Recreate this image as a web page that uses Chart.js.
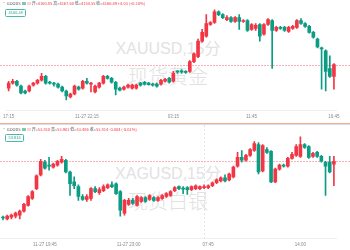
<!DOCTYPE html>
<html>
<head>
<meta charset="utf-8">
<script src="https://cdn.jsdelivr.net/npm/chart.js@4.4.1/dist/chart.umd.min.js"></script>
<style>
  html, body { margin: 0; padding: 0; background: #fff; width: 350px; height: 250px; overflow: hidden; font-family: 'Liberation Sans', 'Noto Sans CJK SC', sans-serif; }
  .wm { position: absolute; left: 0; width: 336px; text-align: center; color: #e2e2e2; white-space: nowrap; }
  .wm.en { font-size: 16px; line-height: 16px; }
  .wm.cn { font-size: 20px; line-height: 20px; font-family: 'Noto Sans CJK SC', sans-serif; font-weight: 300; }
  canvas { position: absolute; left: 0; }
  .hdr { position: absolute; left: 2px; font-size: 4px; line-height: 5px; color: #555; white-space: nowrap; font-family: 'Noto Sans CJK SC', sans-serif; }
  .hdr .v { color: #f23645; }
  .hdr .ic { display: inline-block; width: 4px; height: 3px; vertical-align: middle; margin-right: 1px; }
  .box { position: absolute; left: 5px; border: 0.7px solid #4fb8a5; border-radius: 1.5px; color: #26a69a; font-size: 4px; line-height: 6px; padding: 0 2.5px; }
  .sep { position: absolute; left: 0; width: 350px; height: 1px; }
</style>
</head>
<body>
<div class="wm en" style="top:41px">XAUUSD,15分</div>
<div class="wm cn" style="top:66px">现货黄金</div>
<div class="wm en" style="top:166px">XAGUSD,15分</div>
<div class="wm cn" style="top:191px">现货白银</div>

<canvas id="topChart" width="350" height="122" style="top:0"></canvas>
<canvas id="botChart" width="350" height="125" style="top:125px"></canvas>

<div class="sep" style="top:123px;background:#f4b08a"></div>
<div class="sep" style="top:124px;background:#d5dcee"></div>

<div class="hdr" style="top:1px">• GOODS <span class="ic" style="background:#7cc7b6"></span><span class="ic" style="background:#f9d3d6"></span>开=<span class="v">4160.85</span> 高=<span class="v">4167.60</span> 低=<span class="v">4154.55</span> 收=<span class="v">4166.49 +4.03 (+0.10%)</span></div>
<div class="box" style="top:9px">4166.49</div>
<div class="hdr" style="top:127px">• GOODS <span class="ic" style="background:#7cc7b6"></span><span class="ic" style="background:#f9d3d6"></span>开=<span class="v">53.810</span> 高=<span class="v">53.903</span> 低=<span class="v">53.486</span> 收=<span class="v">53.814 -0.004 (-0.01%)</span></div>
<div class="box" style="top:134px">53.816</div>

<script>
// XAUUSD 15 min candles
const topOpen = [4142.5,4147.5,4149.5,4144.5,4139.5,4139.5,4145.5,4147.5,4150.5,4154.5,
  4148.5,4147.5,4146.5,4143.5,4139.5,4133.5,4136.5,4143.5,4142.5,4149.5,
  4146.5,4138.5,4143.5,4147.5,4154.5,4152.5,4148.5,4142.5,4141.5,4143.5,
  4142.5,4142.5,4147.5,4148.5,4147.5,4146.5,4146.5,4146.5,4149.5,4152.5,
  4149.5,4159.5,4159.5,4159.5,4159.5,4169.5,4174.5,4190.5,4195.5,4207.5,
  4209.5,4220.5,4217.5,4212.5,4214.5,4210.5,4214.5,4210.5,4211.5,4202.5,
  4203.5,4207.5,4197.5,4207.5,4211.5,4201.5,4204.5,4204.5,4200.5,4203.5,
  4204.5,4211.5,4208.5,4205.5,4199.5,4192.5,4183.5,4180.5,4162.5,4154.5];
const topHigh = [4149.5,4151.5,4150.5,4145.5,4140.5,4145.5,4148.5,4151.5,4157.5,4155.5,
  4149.5,4148.5,4147.5,4144.5,4140.5,4137.5,4145.5,4144.5,4150.5,4152.5,
  4148.5,4145.5,4148.5,4155.5,4155.5,4153.5,4149.5,4143.5,4144.5,4146.5,
  4146.5,4146.5,4148.5,4149.5,4148.5,4147.5,4147.5,4151.5,4152.5,4153.5,
  4159.5,4160.5,4161.5,4160.5,4170.5,4178.5,4192.5,4202.5,4217.5,4210.5,
  4222.5,4221.5,4218.5,4216.5,4215.5,4215.5,4217.5,4212.5,4212.5,4208.5,
  4208.5,4208.5,4208.5,4213.5,4212.5,4205.5,4205.5,4205.5,4205.5,4206.5,
  4212.5,4213.5,4209.5,4206.5,4200.5,4193.5,4184.5,4181.5,4175.5,4167.5];
const topLow = [4139.5,4146.5,4144.5,4136.5,4136.5,4138.5,4144.5,4146.5,4149.5,4146.5,
  4146.5,4144.5,4142.5,4138.5,4130.5,4132.5,4135.5,4140.5,4141.5,4146.5,
  4138.5,4137.5,4142.5,4146.5,4151.5,4147.5,4135.5,4139.5,4140.5,4142.5,
  4141.5,4141.5,4144.5,4145.5,4145.5,4144.5,4143.5,4145.5,4148.5,4147.5,
  4148.5,4157.5,4157.5,4157.5,4158.5,4168.5,4173.5,4189.5,4194.5,4206.5,
  4208.5,4216.5,4213.5,4211.5,4209.5,4209.5,4202.5,4209.5,4200.5,4201.5,
  4201.5,4190.5,4196.5,4206.5,4162.5,4200.5,4202.5,4200.5,4199.5,4202.5,
  4203.5,4207.5,4204.5,4198.5,4193.5,4183.5,4141.5,4139.5,4153.5,4141.5];
const topClose = [4147.5,4149.5,4145.5,4137.5,4137.5,4144.5,4147.5,4150.5,4154.5,4147.5,
  4147.5,4146.5,4143.5,4139.5,4134.5,4136.5,4144.5,4141.5,4149.5,4147.5,
  4147.0,4144.5,4147.5,4154.5,4152.5,4148.5,4141.5,4140.5,4143.5,4145.5,
  4145.5,4145.5,4145.5,4146.5,4146.0,4145.5,4144.5,4150.5,4151.5,4148.5,
  4157.5,4159.0,4159.0,4158.5,4169.5,4177.5,4190.5,4199.5,4208.5,4209.5,
  4220.5,4217.5,4214.5,4214.5,4210.5,4214.5,4210.5,4211.5,4201.5,4207.5,
  4206.5,4195.5,4207.5,4212.5,4201.5,4204.5,4203.5,4201.5,4204.5,4205.5,
  4211.5,4208.5,4205.5,4199.5,4194.5,4184.5,4182.5,4159.5,4154.5,4166.49];
const topTicks = [[0, '17:15'], [19, '11-27 22:15'], [40, '03:15'], [59, '11:45'], [79, '16:45']];
const topLast = 4166.49;

// XAGUSD 15 min candles
const botOpen = [52.67,52.64,52.68,52.70,52.72,52.80,52.92,53.06,53.26,53.54,
  53.80,53.74,53.70,53.74,53.80,53.84,53.60,53.40,53.30,53.10,
  53.04,53.06,53.26,53.18,53.22,53.28,53.34,53.36,53.20,52.76,
  52.94,53.02,52.92,53.00,53.08,53.04,53.08,53.02,53.06,53.10,
  53.12,53.22,53.30,53.26,53.28,53.24,53.26,53.26,53.28,53.28,
  53.32,53.38,53.42,53.48,53.44,53.50,53.72,53.90,53.84,53.94,
  54.04,54.16,53.62,54.06,54.02,53.40,53.66,53.74,53.72,53.88,
  53.94,53.92,54.16,54.12,53.92,54.00,53.92,53.80,53.80,53.76];
const botHigh = [52.70,52.72,52.74,52.78,52.82,52.96,53.12,53.22,53.54,53.86,
  53.84,53.90,53.78,53.84,53.92,53.86,53.62,53.50,53.34,53.14,
  53.14,53.28,53.30,53.28,53.34,53.36,53.40,53.38,53.22,53.04,
  53.06,53.06,53.12,53.10,53.10,53.14,53.10,53.10,53.14,53.18,
  53.22,53.30,53.32,53.30,53.30,53.32,53.34,53.32,53.34,53.34,
  53.40,53.46,53.50,53.54,53.58,53.72,54.00,54.04,53.96,54.08,
  54.22,54.20,54.16,54.10,54.04,53.68,53.76,53.76,53.90,54.00,
  54.16,54.32,54.18,54.14,54.00,54.02,53.94,53.82,53.92,53.92];
const botLow = [52.62,52.62,52.64,52.66,52.64,52.78,52.90,53.04,53.24,53.52,
  53.66,53.64,53.68,53.72,53.78,53.58,53.12,53.26,53.02,53.02,
  53.00,53.02,53.18,53.14,53.20,53.26,53.28,53.14,52.70,52.72,
  52.92,52.94,52.90,52.98,52.98,53.02,53.00,53.00,53.04,53.08,
  53.10,53.20,53.24,53.16,53.14,53.22,53.24,53.24,53.26,53.26,
  53.30,53.36,53.40,53.40,53.42,53.48,53.70,53.80,53.82,53.92,
  54.02,53.56,53.60,53.98,53.38,53.38,53.64,53.70,53.70,53.86,
  53.92,53.90,54.08,53.88,53.90,53.90,53.80,53.12,53.58,53.32];
const botClose = [52.66,52.70,52.72,52.76,52.80,52.94,53.10,53.20,53.52,53.82,
  53.68,53.72,53.76,53.82,53.86,53.60,53.36,53.32,53.10,53.04,
  53.10,53.26,53.20,53.24,53.30,53.34,53.30,53.16,52.82,53.02,
  53.02,52.96,53.10,53.08,53.00,53.12,53.02,53.08,53.12,53.16,
  53.20,53.28,53.26,53.25,53.24,53.30,53.32,53.30,53.30,53.32,
  53.38,53.44,53.48,53.42,53.56,53.70,53.90,53.84,53.94,54.06,
  54.18,53.60,54.14,54.00,53.40,53.66,53.74,53.72,53.88,53.96,
  54.12,54.16,54.10,53.90,53.98,53.92,53.82,53.72,53.60,53.816];
const botTicks = [[10, '11-27 19:45'], [30, '11-27 23:00'], [49, '07:45'], [71, '14:00']];
const botLast = 53.816;
const botSession = 48; // dashed session divider

const UP = '#f23645';
const DOWN = '#0c9c84';

// last-price line (and optional vertical divider)
const priceLine = {
  id: 'priceLine',
  beforeDatasetsDraw(chart, args, opts) {
    const ctx = chart.ctx;
    const y = Math.round(chart.scales.y.getPixelForValue(opts.value)) + 0.5;
    ctx.save();
    ctx.lineWidth = 1;
    if (opts.divider != null) {
      const x = Math.round(chart.scales.x.getPixelForValue(opts.divider)) + 0.5;
      ctx.setLineDash([2, 2]);
      ctx.strokeStyle = '#e2e2e2';
      ctx.beginPath();
      ctx.moveTo(x, 0);
      ctx.lineTo(x, chart.chartArea.bottom);
      ctx.stroke();
    }
    ctx.setLineDash([2, 1]);
    ctx.strokeStyle = '#f8b4ba';
    ctx.beginPath();
    ctx.moveTo(0, y);
    ctx.lineTo(chart.width, y);
    ctx.stroke();
    ctx.restore();
  }
};

function candleChart(id, open, high, low, close, ticks, yMin, yMax, last, divider) {
  const labels = open.map(() => '');
  ticks.forEach(([i, t]) => { labels[i] = t; });
  const colors = open.map((o, i) => close[i] >= o ? UP : DOWN);

  return new Chart(document.getElementById(id), {
    type: 'bar',
    data: {
      labels,
      datasets: [
        {
          data: high.map((h, i) => [low[i], h]),
          backgroundColor: colors,
          barThickness: 1,
          grouped: false,
          order: 2
        },
        {
          data: open.map((o, i) => [o, close[i]]),
          backgroundColor: colors,
          barThickness: 3,
          minBarLength: 1,
          grouped: false,
          order: 1
        }
      ]
    },
    options: {
      responsive: false,
      animation: false,
      events: [],
      layout: { padding: { left: 0, right: 14, top: 0, bottom: 0 } },
      plugins: {
        legend: { display: false },
        tooltip: { enabled: false },
        priceLine: { value: last, divider }
      },
      scales: {
        x: {
          grid: { display: false, drawTicks: false },
          border: { display: true, color: '#efefef' },
          ticks: {
            autoSkip: false,
            maxRotation: 0,
            padding: 3,
            color: '#8a8a8a',
            font: { size: 4.5, family: 'Liberation Sans' }
          }
        },
        y: { display: false, min: yMin, max: yMax }
      }
    },
    plugins: [priceLine]
  });
}

candleChart('topChart', topOpen, topHigh, topLow, topClose, topTicks, 4119.5, 4232.5, topLast, null);
candleChart('botChart', botOpen, botHigh, botLow, botClose, botTicks, 52.24, 54.56, botLast, botSession);
</script>
</body>
</html>
